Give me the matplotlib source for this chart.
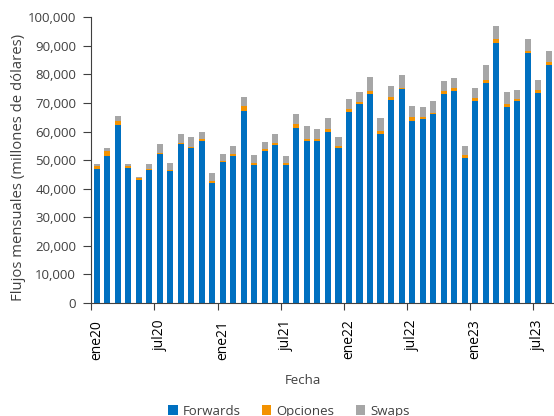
import numpy as np
import matplotlib.pyplot as plt
from matplotlib.ticker import FuncFormatter, FixedLocator

plt.rcParams['font.family'] = ['Open Sans', 'DejaVu Sans']

# monthly flows, jan 2020 - aug 2023, in thousands of millions of dollars
meses = ['ene20', 'feb20', 'mar20', 'abr20', 'may20', 'jun20', 'jul20', 'ago20', 'sep20', 'oct20', 'nov20', 'dic20',
         'ene21', 'feb21', 'mar21', 'abr21', 'may21', 'jun21', 'jul21', 'ago21', 'sep21', 'oct21', 'nov21', 'dic21',
         'ene22', 'feb22', 'mar22', 'abr22', 'may22', 'jun22', 'jul22', 'ago22', 'sep22', 'oct22', 'nov22', 'dic22',
         'ene23', 'feb23', 'mar23', 'abr23', 'may23', 'jun23', 'jul23', 'ago23']
forwards = [46.8, 51.3, 62.3, 47.4, 43.2, 46.6, 52.0, 46.3, 55.8, 54.2, 56.7, 42.0,
            49.4, 51.6, 67.2, 48.4, 53.2, 55.4, 48.4, 61.4, 56.8, 56.8, 60.0, 54.1,
            67.0, 69.5, 73.3, 59.2, 71.1, 74.8, 63.8, 64.3, 66.2, 73.3, 74.3, 50.9,
            70.8, 77.0, 90.9, 68.5, 70.7, 87.6, 73.6, 83.2]
opciones = [1.1, 1.9, 1.5, 0.7, 0.5, 0.3, 0.4, 0.4, 0.3, 0.3, 0.6, 0.7,
            0.3, 0.7, 1.8, 0.6, 0.6, 0.7, 0.6, 1.3, 0.6, 0.5, 0.9, 0.9,
            0.9, 0.9, 1.0, 1.0, 0.9, 0.6, 1.3, 0.9, 0.4, 0.8, 0.8, 1.0,
            1.0, 1.1, 1.4, 1.3, 0.6, 0.7, 0.8, 1.1]
swaps = [0.6, 0.9, 1.8, 0.4, 0.4, 1.8, 3.4, 2.2, 2.9, 3.5, 2.7, 2.9,
         2.6, 2.8, 3.1, 2.9, 2.5, 2.9, 2.6, 3.3, 4.4, 3.5, 4.0, 3.2,
         3.5, 3.6, 4.8, 4.7, 4.1, 4.5, 4.0, 3.4, 4.0, 3.6, 3.8, 2.9,
         3.4, 5.2, 4.7, 3.9, 3.3, 4.0, 3.8, 4.0]

fw = np.array(forwards) * 1000
op = np.array(opciones) * 1000
sw = np.array(swaps) * 1000
x = np.arange(len(meses))

fig = plt.figure(figsize=(5.54, 4.16), dpi=100)
ax = fig.add_axes([0.165, 0.2716, 0.835, 0.6868])

w = 0.58
ax.bar(x, fw, w, color='#0070C0', label='Forwards')
ax.bar(x, op, w, bottom=fw, color='#F39200', label='Opciones')
ax.bar(x, sw, w, bottom=fw + op, color='#A6A6A6', label='Swaps')

ax.set_xlim(-0.5, len(meses) - 0.5)
ax.set_ylim(0, 100000)
ax.set_yticks(np.arange(0, 100001, 10000))
ax.yaxis.set_major_formatter(FuncFormatter(lambda v, p: '{:,.0f}'.format(v)))

# tick marks between categories, labels centred on the bars
ax.xaxis.set_major_locator(FixedLocator(np.arange(-0.5, len(meses), 6)))
ax.xaxis.set_major_formatter(FuncFormatter(lambda v, p: ''))
ax.xaxis.set_minor_locator(FixedLocator(x[::6]))
ax.set_xticklabels([meses[i] for i in x[::6]], minor=True, rotation=90, va='top')
ax.tick_params(axis='x', which='minor', length=0, pad=12)
ax.tick_params(axis='x', which='major', length=5, color='#404040')
ax.tick_params(axis='y', length=6, color='#404040', pad=5)
ax.tick_params(labelsize=9.5, labelcolor='#404040')

for s in ['top', 'right']:
    ax.spines[s].set_visible(False)
ax.spines['left'].set_color('#404040')
ax.spines['bottom'].set_color('#404040')

ax.set_xlabel('Fecha', fontsize=9.5, color='#404040')
ax.xaxis.set_label_coords(0.457, -0.25)
ax.set_ylabel('Flujos mensuales (millones de dólares)', fontsize=10.7, color='#404040')
ax.yaxis.set_label_coords(-0.142, 0.476)

fig.legend(loc='center', bbox_to_anchor=(289 / 554, 0.012), ncol=3, frameon=False,
           fontsize=9.5, handlelength=0.7, handleheight=0.7, handletextpad=0.4,
           columnspacing=1.6, labelcolor='#404040')

fig.savefig('out.png', dpi=100)
